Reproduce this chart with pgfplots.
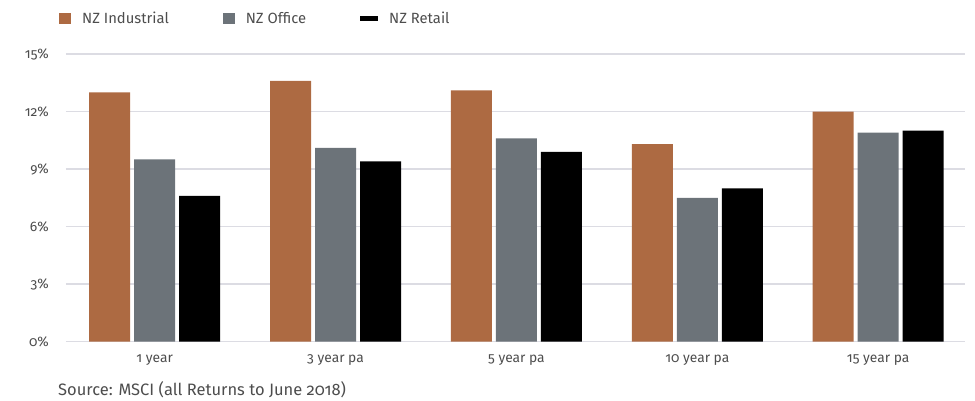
\documentclass[border=0pt]{standalone}
\usepackage{fontspec}
\setmainfont{Fira Sans}[Numbers=OldStyle]
\usepackage{pgfplots}
\pgfplotsset{compat=1.18}
\definecolor{ind}{HTML}{AD6A42}
\definecolor{off}{HTML}{6C7379}
\definecolor{txt}{HTML}{4D4D4D}
\definecolor{gridc}{HTML}{DCDCE3}
\begin{document}
\begin{tikzpicture}
\useasboundingbox (0pt,0pt) rectangle (975pt,401pt);
\begin{axis}[
  at={(66pt,59.3pt)}, anchor=south west,
  scale only axis, width=899pt, height=287.7pt,
  ymin=0, ymax=15, xmin=-0.49, xmax=4.48,
  ytick={0,3,6,9,12,15},
  yticklabel={\pgfmathprintnumber{\tick}\%},
  /pgf/number format/assume math mode=true,
  xtick={0,1,2,3,4},
  xticklabels={1 year,3 year pa,5 year pa,10 year pa,15 year pa},
  axis line style={draw=none},
  major tick length=0pt,
  tick style={draw=none},
  ymajorgrids, grid style={gridc, line width=1.5pt},
  tick label style={font=\fontsize{13.8}{16}\selectfont, text=txt},
  yticklabel style={inner sep=0pt, xshift=-17pt},
  xticklabel style={inner sep=0pt, yshift=-13pt},
  ybar=4pt, bar width=41pt,
  clip=false,
  legend style={at={(0,1)}, anchor=west, xshift=-7pt, yshift=35.5pt,
    draw=none, inner sep=0pt, fill=none,
    font=\fontsize{14.8}{17}\selectfont, text=txt,
    nodes={inner sep=0pt},
    /tikz/every odd column/.append style={column sep=11pt},
    /tikz/every even column/.append style={column sep=54pt}},
  legend columns=3,
]
\addplot[fill=ind, draw=none,
  legend image code/.code={\fill[ind] (0pt,-5.5pt) rectangle (12pt,5.5pt);}]
  coordinates {(0,13.0) (1,13.6) (2,13.1) (3,10.3) (4,12.0)};
\addplot[fill=off, draw=none,
  legend image code/.code={\fill[off] (0pt,-5.5pt) rectangle (12pt,5.5pt);}]
  coordinates {(0,9.5) (1,10.1) (2,10.6) (3,7.5) (4,10.9)};
\addplot[fill=black, draw=none,
  legend image code/.code={\fill[black] (0pt,-2.5pt) rectangle (18pt,2.5pt);}]
  coordinates {(0,7.6) (1,9.4) (2,9.9) (3,8.0) (4,11.0)};
\legend{NZ Industrial, NZ Office, NZ Retail}
\end{axis}
\node[anchor=base west, inner sep=0pt, text=txt, font=\fontsize{16.5}{19}\selectfont] at (58pt,5pt) {Source: MSCI (all Returns to June 2018)};
\end{tikzpicture}
\end{document}
